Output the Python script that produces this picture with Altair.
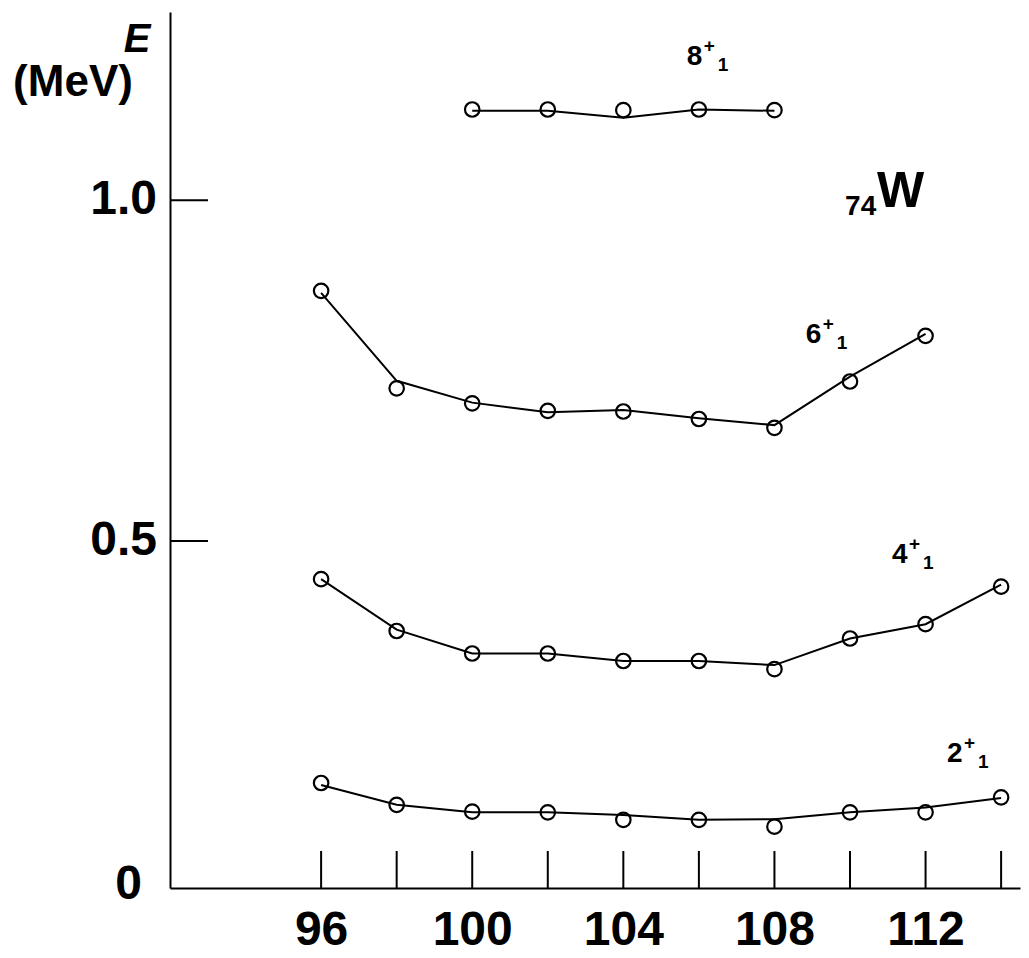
import altair as alt
import pandas as pd

# ---- data ----
N_all = [96, 98, 100, 102, 104, 106, 108, 110, 112, 114]
N_6 = [96, 98, 100, 102, 104, 106, 108, 110, 112]
N_8 = [100, 102, 104, 106, 108]

e2_pts = [0.145, 0.113, 0.103, 0.102, 0.091, 0.091, 0.081, 0.102, 0.102, 0.124]
e2_line = [0.142, 0.113, 0.102, 0.102, 0.098, 0.091, 0.092, 0.102, 0.109, 0.123]
e4_pts = [0.444, 0.368, 0.335, 0.335, 0.324, 0.324, 0.312, 0.357, 0.378, 0.433]
e4_line = [0.444, 0.370, 0.335, 0.335, 0.324, 0.324, 0.318, 0.357, 0.378, 0.436]
e6_pts = [0.867, 0.724, 0.702, 0.691, 0.690, 0.679, 0.666, 0.734, 0.801]
e6_line = [0.864, 0.735, 0.703, 0.689, 0.692, 0.680, 0.670, 0.741, 0.804]
e8_pts = [1.133, 1.133, 1.132, 1.133, 1.132]
e8_line = [1.131, 1.131, 1.121, 1.133, 1.131]

x_tick_values = [96, 98, 100, 102, 104, 106, 108, 110, 112, 114]
x_label_values = [96, 100, 104, 108, 112]
y_label_values = [0, 0.5, 1.0]
y_label_texts = ["0", "0.5", "1.0"]
y_tick_values = [0.5, 1.0]

level_names = ["8", "6", "4", "2"]
level_label_N = [105.68, 108.83, 111.11, 112.57]
level_label_E = [1.198, 0.790, 0.468, 0.176]

FONT = "Liberation Sans"

rows_pts, rows_line = [], []
for lvl, ns, pts, ln in [("2", N_all, e2_pts, e2_line), ("4", N_all, e4_pts, e4_line),
                         ("6", N_6, e6_pts, e6_line), ("8", N_8, e8_pts, e8_line)]:
    for n, p, l in zip(ns, pts, ln):
        rows_pts.append({"N": n, "E": p, "level": lvl})
        rows_line.append({"N": n, "E": l, "level": lvl})
df_pts = pd.DataFrame(rows_pts)
df_line = pd.DataFrame(rows_line)
df_lab = pd.DataFrame({"N": level_label_N, "E": level_label_E, "base": level_names,
                       "sup": ["+"] * 4, "sub": ["1"] * 4})
df_ylab = pd.DataFrame({"E": y_label_values, "txt": y_label_texts})

xscale = alt.Scale(domain=[92, 114.5], nice=False, zero=False)
yscale = alt.Scale(domain=[-0.009, 1.276], nice=False, zero=False)

xaxis = alt.Axis(values=x_label_values, ticks=False, grid=False, title=None,
                 labelFontSize=48, labelFont=FONT, labelFontWeight="bold", labelColor="black",
                 labelPadding=18, domainColor="black", domainWidth=2, labelFlush=False)
yaxis = alt.Axis(values=y_label_values, ticks=False, grid=False, title=None, labels=False,
                 domainColor="black", domainWidth=2)

lines = alt.Chart(df_line).mark_line(color="black", strokeWidth=2).encode(
    x=alt.X("N:Q", scale=xscale, axis=xaxis),
    y=alt.Y("E:Q", scale=yscale, axis=yaxis),
    detail="level:N",
)
points = alt.Chart(df_pts).mark_point(shape="circle", filled=False, color="black",
                                      strokeWidth=2.2, size=210, opacity=1).encode(
    x=alt.X("N:Q", scale=xscale), y=alt.Y("E:Q", scale=yscale))

xticks = alt.Chart(pd.DataFrame({"N": x_tick_values})).mark_rule(color="black", strokeWidth=2).encode(
    x=alt.X("N:Q", scale=xscale), y=alt.value(839), y2=alt.value(876))
yticks = alt.Chart(pd.DataFrame({"E": y_tick_values})).mark_rule(color="black", strokeWidth=2).encode(
    y=alt.Y("E:Q", scale=yscale), x=alt.value(0), x2=alt.value(38))

ylab_main = alt.Chart(df_ylab).transform_filter("datum.E > 0").mark_text(
    font=FONT, fontWeight="bold", fontSize=48, align="right", baseline="middle", color="black").encode(
    y=alt.Y("E:Q", scale=yscale), x=alt.value(-13), text="txt:N")
ylab_zero = alt.Chart(df_ylab).transform_filter("datum.E == 0").mark_text(
    font=FONT, fontWeight="bold", fontSize=48, align="right", baseline="middle", color="black", dy=3).encode(
    y=alt.Y("E:Q", scale=yscale), x=alt.value(-28), text="txt:N")

base_txt = alt.Chart(df_lab).mark_text(font=FONT, fontWeight="bold", fontSize=28, align="left",
                                       baseline="alphabetic", color="black").encode(
    x=alt.X("N:Q", scale=xscale), y=alt.Y("E:Q", scale=yscale), text="base:N")
sup_txt = alt.Chart(df_lab).mark_text(font=FONT, fontWeight="bold", fontSize=19, align="left",
                                      baseline="alphabetic", color="black", dx=17, dy=-13).encode(
    x=alt.X("N:Q", scale=xscale), y=alt.Y("E:Q", scale=yscale), text="sup:N")
sub_txt = alt.Chart(df_lab).mark_text(font=FONT, fontWeight="bold", fontSize=19, align="left",
                                      baseline="alphabetic", color="black", dx=31, dy=6).encode(
    x=alt.X("N:Q", scale=xscale), y=alt.Y("E:Q", scale=yscale), text="sub:N")

elem = pd.DataFrame({"N": [109.87], "E": [1.0], "z": ["74"], "sym": ["W"]})
z_txt = alt.Chart(elem).mark_text(font=FONT, fontWeight="bold", fontSize=28, align="left",
                                  baseline="alphabetic", color="black", dy=15).encode(
    x=alt.X("N:Q", scale=xscale), y=alt.Y("E:Q", scale=yscale), text="z:N")
w_txt = alt.Chart(elem).mark_text(font=FONT, fontWeight="bold", fontSize=50, align="left",
                                  baseline="alphabetic", color="black", dx=32, dy=7).encode(
    x=alt.X("N:Q", scale=xscale), y=alt.Y("E:Q", scale=yscale), text="sym:N")

title_df = pd.DataFrame({"t1": ["E"], "t2": ["(MeV)"]})
t1 = alt.Chart(title_df).mark_text(font=FONT, fontWeight="bold", fontStyle="italic", fontSize=40,
                                   align="center", baseline="middle", color="black").encode(
    x=alt.value(-33), y=alt.value(28), text="t1:N")
t2 = alt.Chart(title_df).mark_text(font=FONT, fontWeight="bold", fontSize=44,
                                   align="center", baseline="middle", color="black").encode(
    x=alt.value(-97), y=alt.value(71), text="t2:N")

chart = alt.layer(xticks, yticks, lines, points, ylab_main, ylab_zero, base_txt, sup_txt, sub_txt,
                  z_txt, w_txt, t1, t2).properties(
    width=850, height=876,
    autosize=alt.AutoSizeParams(type="none"),
    padding={"left": 162, "top": 4, "right": 1, "bottom": 70},
    background="white",
).configure_view(stroke=None)

chart.save("out.html", embed_options={"renderer": "svg", "actions": False})
